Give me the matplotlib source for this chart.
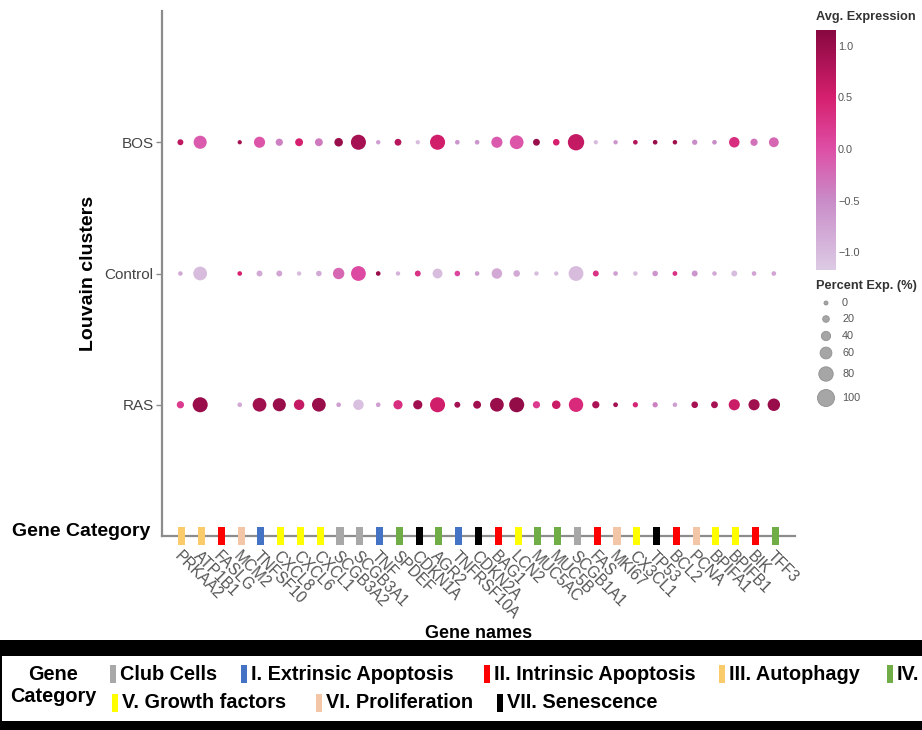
import numpy as np
import matplotlib
matplotlib.use("Agg")
import matplotlib.pyplot as plt
from matplotlib.colors import LinearSegmentedColormap, Normalize
from matplotlib.patches import Rectangle
from matplotlib import font_manager

# ---------------- data ----------------
genes = ["PRKAA2", "ATP1B1", "FASLG", "MCM2", "TNFSF10", "CXCL8", "CXCL6", "CXCL1",
         "SCGB3A2", "SCGB3A1", "TNF", "SPDEF", "CDKN1A", "AGR2", "TNFRSF10A", "CDKN2A",
         "BAG1", "LCN2", "MUC5AC", "MUC5B", "SCGB1A1", "FAS", "MKI67", "CX3CL1", "TP53",
         "BCL2", "PCNA", "BPIFA1", "BPIFB1", "BIK", "TFF3"]
gene_category = ["III", "III", "II", "VI", "I", "V", "V", "V",
                 "Club", "Club", "I", "IV", "VII", "IV", "I", "VII",
                 "II", "V", "IV", "IV", "Club", "II", "VI", "V", "VII",
                 "II", "VI", "V", "V", "II", "IV"]
clusters = ["RAS", "Control", "BOS"]

nan = np.nan
pct_BOS = [15, 70, nan, 2, 55, 25, 30, 30, 35, 85, 3, 22, 2, 85, 5, 5,
           55, 75, 22, 20, 95, 2, 3, 5, 5, 4, 10, 5, 50, 25, 45]
expr_BOS = [0.7, -0.1, nan, 0.9, -0.05, -0.4, 0.5, -0.35, 1.0, 0.9, -0.7, 0.75, -1.0, 0.55, -0.6, -0.6,
            -0.1, -0.05, 1.0, 0.5, 0.65, -1.0, -0.6, 0.8, 1.0, 0.95, -0.5, -0.5, 0.35, -0.3, -0.2]
pct_Control = [4, 75, nan, 5, 15, 15, 3, 12, 57, 83, 5, 3, 15, 45, 12, 5,
               50, 20, 3, 3, 83, 15, 5, 4, 12, 6, 15, 4, 15, 5, 5]
expr_Control = [-0.8, -1.0, nan, 0.5, -0.8, -0.75, -1.0, -0.8, -0.2, 0.05, 1.0, -0.9, 0.3, -1.0, 0.1, -0.7,
                -0.8, -0.8, -1.0, -1.0, -1.0, 0.3, -0.7, -1.0, -0.6, 0.3, -0.6, -0.8, -1.0, -0.75, -0.75]
pct_RAS = [25, 85, nan, 5, 75, 70, 50, 75, 5, 50, 5, 40, 40, 85, 15, 30,
           75, 85, 25, 35, 80, 25, 6, 10, 10, 4, 20, 22, 55, 55, 65]
expr_RAS = [0.2, 1.0, nan, -0.8, 0.95, 1.0, 0.65, 1.0, -0.7, -1.05, -0.7, 0.35, 0.95, 0.55, 0.9, 0.95,
            1.0, 1.05, 0.2, 0.6, 0.4, 0.85, 0.9, 0.45, -0.4, -0.7, 0.9, 0.9, 0.6, 0.95, 1.0]

size_legend_values = [0, 20, 40, 60, 80, 100]
cbar_ticks = [1.0, 0.5, 0.0, -0.5, -1.0]

category_names = {
    "Club": "Club Cells", "I": "I. Extrinsic Apoptosis", "II": "II. Intrinsic Apoptosis",
    "III": "III. Autophagy", "IV": "IV.", "V": "V. Growth factors",
    "VI": "VI. Proliferation", "VII": "VII. Senescence",
}
category_colors = {
    "Club": "#A8A8A8", "I": "#4472C4", "II": "#FF0000", "III": "#F9CB6B",
    "IV": "#70AD47", "V": "#FFFF00", "VI": "#F4C6A8", "VII": "#000000",
}

# ---------------- style ----------------
plt.rcParams['font.family'] = ['Liberation Sans', 'DejaVu Sans']
W, H = 922, 730
fig = plt.figure(figsize=(W / 100, H / 100), dpi=100)

def fx(px):
    return px / W

def fy(py):
    return (H - py) / H

vmin, vmax = -1.17, 1.15
cmap = LinearSegmentedColormap.from_list(
    "avgexp",
    [(0.0, "#DDCBE5"), (0.289, "#C98CC8"), (0.504, "#DE4FA6"),
     (0.72, "#D6206F"), (1.0, "#880840")])
norm = Normalize(vmin=vmin, vmax=vmax)

def dot_size(p):
    d_px = 4 + 0.13 * np.asarray(p, dtype=float)
    return (d_px * 0.72) ** 2

# ---------------- bottom black frame (behind everything) ----------------
fig.patches.append(Rectangle((0, 0), 1, fy(640), transform=fig.transFigure,
                             facecolor="black", edgecolor="none", zorder=-5))
fig.patches.append(Rectangle((fx(2), fy(721)), 1.0, fy(656) - fy(721),
                             transform=fig.transFigure, facecolor="white",
                             edgecolor="none", zorder=-4))

# ---------------- main axes ----------------
AX_L, AX_R, AX_T, AX_B = 162, 795, 11, 536
ax = fig.add_axes([fx(AX_L), fy(AX_B), fx(AX_R) - fx(AX_L), fy(AX_T) - fy(AX_B)])
ax.set_zorder(2)
ax.patch.set_alpha(0)
x = np.arange(len(genes))
rows = {"BOS": (pct_BOS, expr_BOS), "Control": (pct_Control, expr_Control),
        "RAS": (pct_RAS, expr_RAS)}
for yi, cl in enumerate(clusters):
    p, e = rows[cl]
    p = np.asarray(p, float)
    e = np.asarray(e, float)
    m = ~np.isnan(p)
    ax.scatter(x[m] - 0.07, np.full(m.sum(), yi), s=dot_size(p[m]), c=e[m],
               cmap=cmap, norm=norm, linewidths=0, zorder=3)

ax.set_xlim(-1, 31)
ax.set_ylim(-1, 3)
for s in ["top", "right"]:
    ax.spines[s].set_visible(False)
for s in ["left", "bottom"]:
    ax.spines[s].set_color("#8C8C8C")
    ax.spines[s].set_linewidth(1.6)

ax.set_yticks(range(len(clusters)))
ax.set_yticklabels(clusters, fontsize=11, color="#444444")
ax.tick_params(axis="y", length=4, width=1, color="#8C8C8C", pad=2)

ax.set_xticks(x)
ax.set_xticklabels(genes, rotation=-45, ha="left", va="top", rotation_mode="anchor",
                   fontsize=11.2, color="#555555")
ax.tick_params(axis="x", length=0, pad=9)

# gene category rectangles on the axis
bar_colors = [category_colors[c] for c in gene_category]
ax.bar(x, 0.13, bottom=-1 - 0.065, width=0.36, color=bar_colors, clip_on=False, zorder=4)

axw = fx(AX_R) - fx(AX_L)
axh = fy(AX_T) - fy(AX_B)
ax.set_ylabel("Louvain clusters", fontsize=14, fontweight="bold")
ax.yaxis.set_label_coords((fx(97) - fx(AX_L)) / axw, 0.5)
ax.set_xlabel("Gene names", fontsize=13, fontweight="bold")
ax.xaxis.set_label_coords(0.5, (fy(625) - fy(AX_B)) / axh)

fig.text(fx(12), fy(532), "Gene Category", fontsize=14, fontweight="bold",
         ha="left", va="center")

# ---------------- colorbar ----------------
cax = fig.add_axes([fx(816), fy(270), fx(836) - fx(816), fy(30) - fy(270)])
grad = np.linspace(vmin, vmax, 256).reshape(-1, 1)
cax.imshow(grad, aspect="auto", cmap=cmap, norm=norm, origin="lower",
           extent=[0, 1, vmin, vmax])
cax.set_xticks([])
cax.yaxis.tick_right()
cax.set_yticks(cbar_ticks)
cax.set_yticklabels(["1.0", "0.5", "0.0", "\u22120.5", "\u22121.0"])
cax.tick_params(axis="y", length=0, pad=1.5, labelsize=7.8, labelcolor="#555555")
for s in cax.spines.values():
    s.set_visible(False)
fig.text(fx(816), fy(17), "Avg. Expression", fontsize=9.2, fontweight="bold",
         color="#333333", ha="left", va="center")

# ---------------- size legend ----------------
lax = fig.add_axes([fx(805), fy(410), fx(920) - fx(805), fy(294) - fy(410)])
lax.set_xlim(805, 920)
lax.set_ylim(410, 294)
lax.axis("off")
ly = [303, 319, 336, 353, 374, 398]
lax.scatter([826] * len(size_legend_values), ly, s=dot_size(size_legend_values),
            color="#A6A6A6", edgecolors="#8F8F8F", linewidths=0.6, clip_on=False)
for yy, v in zip(ly, size_legend_values):
    lax.text(842, yy, str(v), fontsize=7.8, color="#555555", ha="left", va="center")
fig.text(fx(816), fy(286), "Percent Exp. (%)", fontsize=9.2, fontweight="bold",
         color="#333333", ha="left", va="center")

# ---------------- bottom category legend ----------------
narrow = None
for fam in ["Liberation Sans Narrow", "Arial Narrow"]:
    try:
        font_manager.findfont(font_manager.FontProperties(family=fam),
                              fallback_to_default=False)
        narrow = fam
        break
    except Exception:
        pass
if narrow:
    leg_font = dict(family=[narrow, "DejaVu Sans"], fontsize=17.5, fontweight="bold")
else:
    leg_font = dict(family=["Liberation Sans", "DejaVu Sans"], fontsize=14.3, fontweight="bold")

fig.text(fx(53), fy(675), "Gene", ha="center", va="center", zorder=5, **leg_font)
fig.text(fx(53), fy(697), "Category", ha="center", va="center", zorder=5, **leg_font)

legend_items = [
    ("Club", 110, 674), ("I", 241, 674), ("II", 484, 674), ("III", 719, 674),
    ("IV", 887, 674), ("V", 112, 703), ("VI", 316, 703), ("VII", 497, 703),
]
for key, px, py in legend_items:
    fig.patches.append(Rectangle((fx(px), fy(py + 9)), fx(6), fy(0) - fy(18),
                                 transform=fig.transFigure,
                                 facecolor=category_colors[key], edgecolor="none", zorder=5))
    fig.text(fx(px + 10), fy(py), category_names[key], ha="left", va="center",
             zorder=5, **leg_font)

fig.savefig("out.png", dpi=100)
